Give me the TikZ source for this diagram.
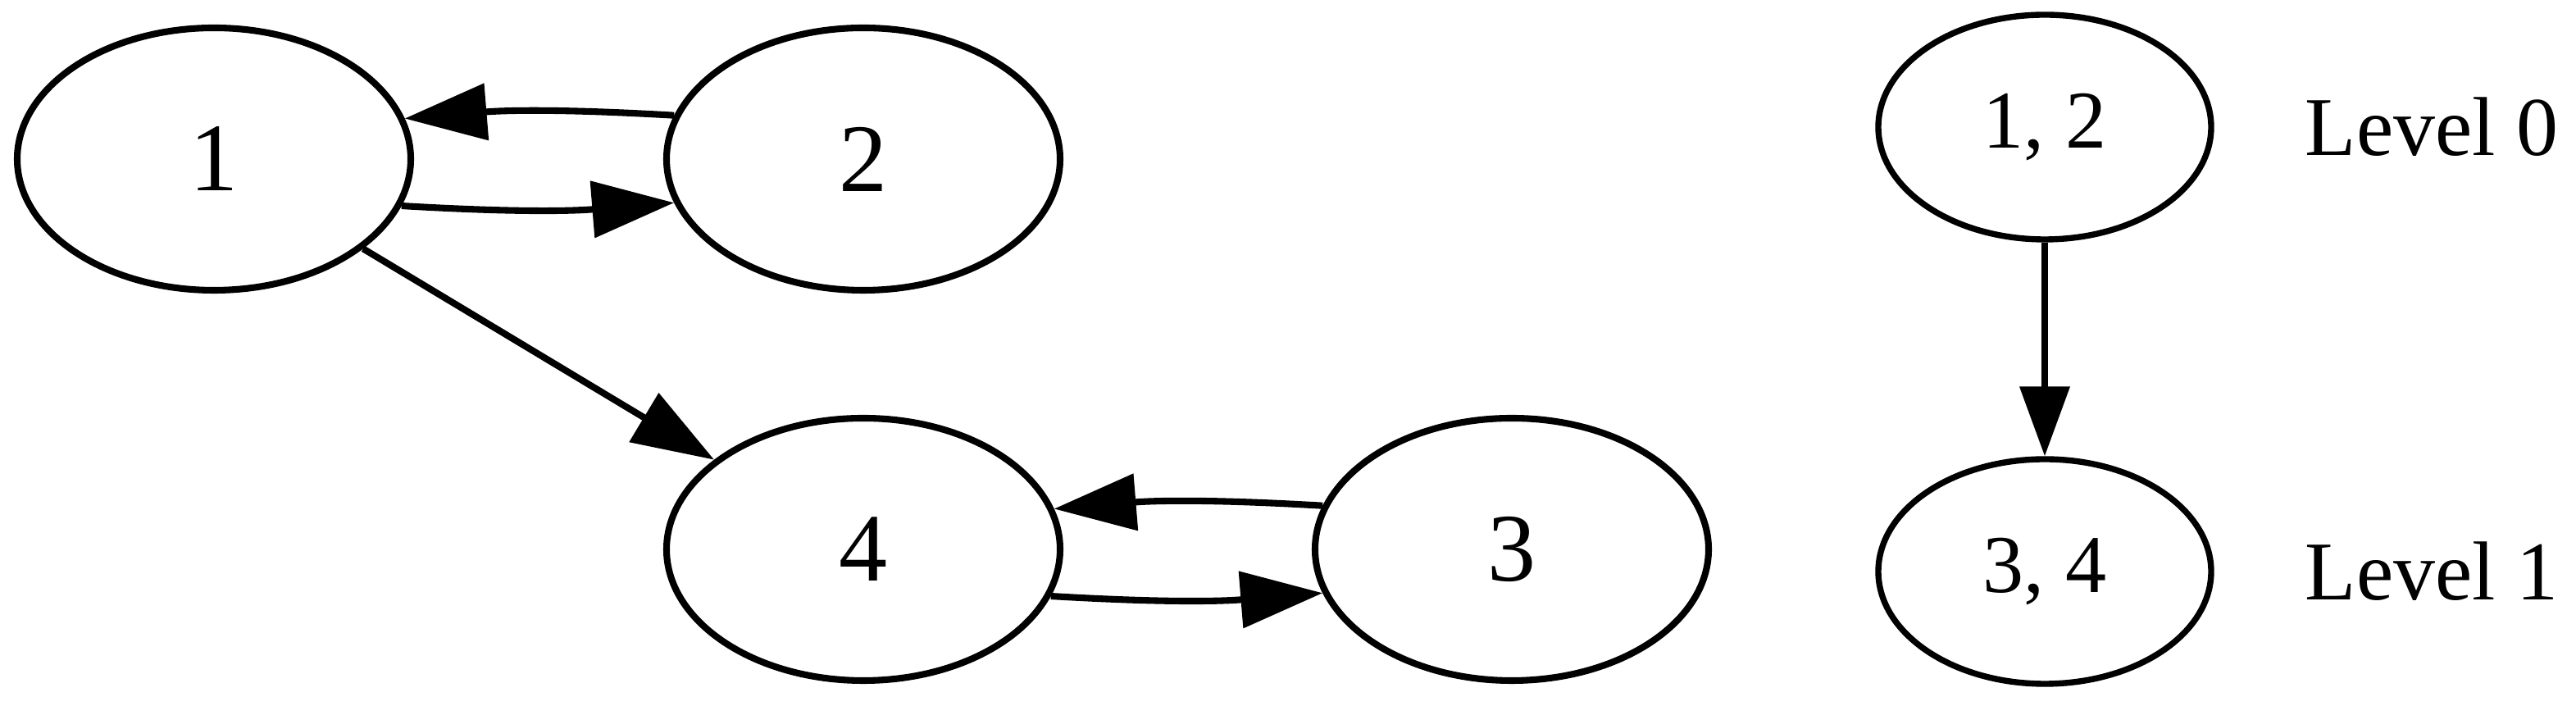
\documentclass[tikz,border=0pt]{standalone}
\usepackage{fontspec}
\setmainfont{Liberation Serif}
\usetikzlibrary{shapes.geometric, arrows.meta}

\begin{document}
\begin{tikzpicture}[x=1cm, y=1cm,
StateNode/.style={draw, ellipse, line width=2.3pt, minimum width=4.8cm, minimum height=3.2cm, inner sep=0pt, font=\fontsize{33.6}{40}\selectfont},
SccNode/.style={draw, ellipse, line width=2.1pt, minimum width=4.06cm, minimum height=2.74cm, inner sep=0pt, font=\fontsize{28.5}{34}\selectfont},
LevelText/.style={font=\fontsize{29}{34}\selectfont},
StateEdge/.style={-{Triangle[length=1cm, width=0.68cm]}, line width=2.3pt},
SccEdge/.style={-{Triangle[length=0.85cm, width=0.6cm]}, line width=2.1pt}]
\useasboundingbox (0,0) rectangle (31.42,8.61);
% the graph
\foreach \name/\x/\y in {1/2.61/6.67, 2/10.53/6.67, 4/10.53/1.91, 3/18.44/1.91} {
  \node [StateNode] (n\name) at (\x, \y) {\name};
}
\draw [StateEdge] (n1.-14) to [bend right=4] (n2.193);
\draw [StateEdge] (n2.167) to [bend right=4] (n1.12);
\draw [StateEdge] (n1) -- (n4);
\draw [StateEdge] (n4.-14) to [bend right=4] (n3.193);
\draw [StateEdge] (n3.167) to [bend right=4] (n4.12);
% condensation with levels
\node [SccNode] (n12) at (24.94, 7.06) {1, 2};
\node [SccNode] (n34) at (24.94, 1.64) {3, 4};
\draw [SccEdge] (n12) -- (n34);
\node [LevelText] (level0) at (29.66, 7.06) {Level 0};
\node [LevelText] (level1) at (29.66, 1.64) {Level 1};
\end{tikzpicture}
\end{document}
